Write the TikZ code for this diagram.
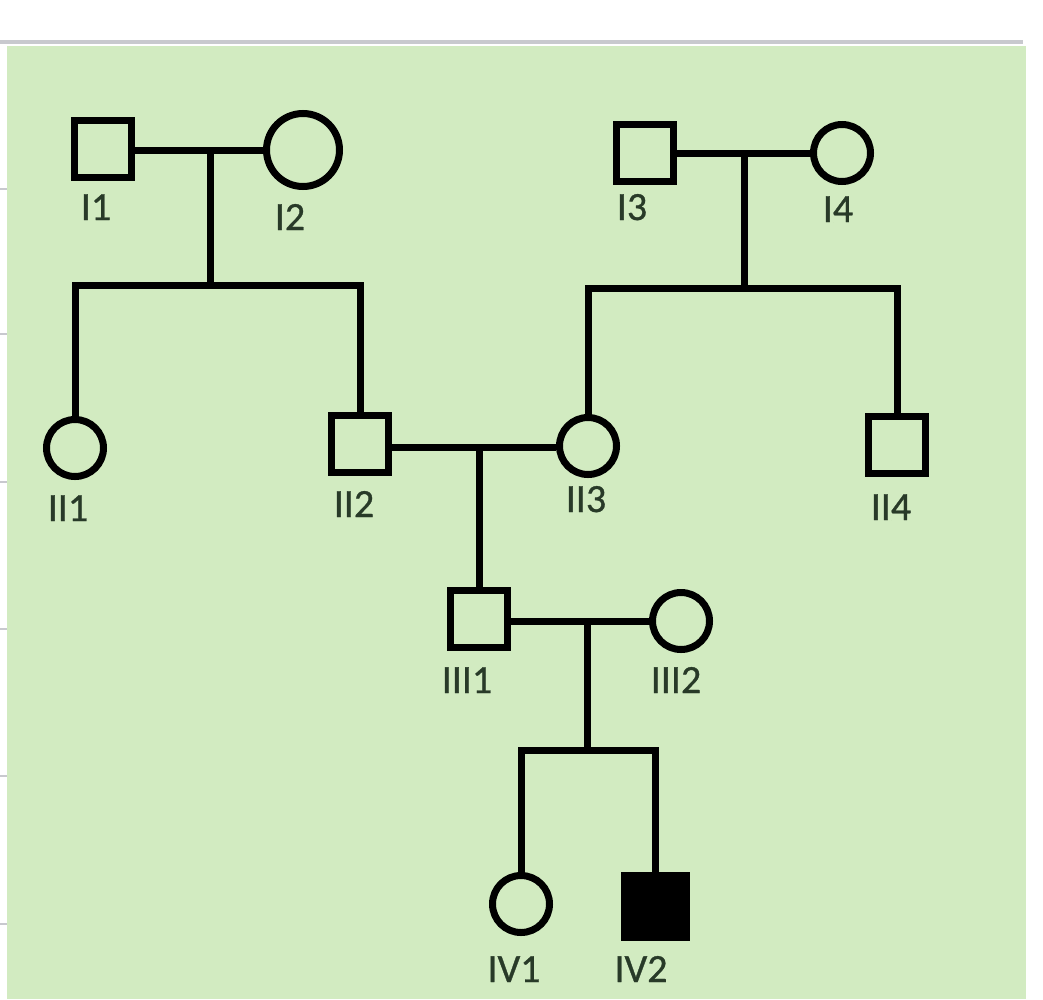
\documentclass[tikz,border=0pt]{standalone}
\usepackage{fontspec}
\setmainfont{Carlito}
\newfontfamily\lblfont[FakeBold=0.8]{Carlito}
\definecolor{bg}{RGB}{210,235,193}
\definecolor{lblcol}{RGB}{40,58,40}
\definecolor{rulecol}{RGB}{200,201,206}
\begin{document}
\begin{tikzpicture}[x=1pt,y=-1pt,
  male/.style={draw=black, line width=7pt, minimum size=57pt, inner sep=0pt, rectangle},
  female/.style={draw=black, line width=7pt, minimum size=57pt, inner sep=0pt, circle},
  lbl/.style={anchor=base, font=\lblfont\fontsize{40}{40}\selectfont, text=lblcol, inner sep=0pt},
  link/.style={draw=black, line width=7pt, line join=miter},
  tick/.style={draw=rulecol, line width=1.5pt}
]
\useasboundingbox (0,0) rectangle (1043,999);
% frame
\fill[white] (0,0) rectangle (1043,999);
\draw[draw=rulecol, line width=4pt] (0,42) -- (1023,42);
\fill[bg] (7,46) rectangle (1026,999);
\foreach \ty in {189,334,482,629,776,924} \draw[tick] (0,\ty) -- (7,\ty);

% generation I
\node[male]   (I1) at (103,149) {};
\node[female, minimum size=73pt] (I2) at (303,150) {};
\node[male]   (I3) at (645,153) {};
\node[female] (I4) at (842,153) {};
% generation II
\node[female] (II1) at (75,448) {};
\node[male]   (II2) at (360,444) {};
\node[female] (II3) at (588,446) {};
\node[male]   (II4) at (897,445) {};
% generation III
\node[male]   (III1) at (479,619) {};
\node[female] (III2) at (681,621) {};
% generation IV
\node[female] (IV1) at (521,904) {};
\node[male, fill=black, minimum size=62pt] (IV2) at (655,906) {};

% labels
\node[lbl] (lI1) at (96,220) {I1};
\node[lbl] (lI2) at (290,230) {I2};
\node[lbl] (lI3) at (632,220) {I3};
\node[lbl] (lI4) at (838,222) {I4};
\node[lbl] (lII1) at (68,521) {II1};
\node[lbl] (lII2) at (354,517) {II2};
\node[lbl] (lII3) at (586,512) {II3};
\node[lbl] (lII4) at (891,520) {II4};
\node[lbl] (lIII1) at (467,693) {III1};
\node[lbl] (lIII2) at (676,693) {III2};
\node[lbl] (lIV1) at (514,982) {IV1};
\node[lbl] (lIV2) at (641,982) {IV2};

% couple I1-I2
\coordinate (m1) at (210,150);
\coordinate (s1) at (210,285);
\draw[link] (I1.east |- m1) -- (I2.west |- m1);
\draw[link] (m1) -- (s1);
\draw[link] (II1.north) |- (s1) -| (II2.north);

% couple I3-I4
\coordinate (m2) at (744,153);
\coordinate (s2) at (744,288);
\draw[link] (I3) -- (I4);
\draw[link] (m2) -- (s2);
\draw[link] (II3.north) |- (s2) -| (II4.north);

% couple II2-II3
\coordinate (m3) at (479,447);
\draw[link] (II2.east |- m3) -- (II3.west |- m3);
\draw[link] (m3) -- (III1.north);

% couple III1-III2
\coordinate (m4) at (587,621);
\coordinate (s4) at (587,750);
\draw[link] (III1.east |- m4) -- (III2.west |- m4);
\draw[link] (m4) -- (s4);
\draw[link] (IV1.north) |- (s4) -| (IV2.north);
\end{tikzpicture}
\end{document}
